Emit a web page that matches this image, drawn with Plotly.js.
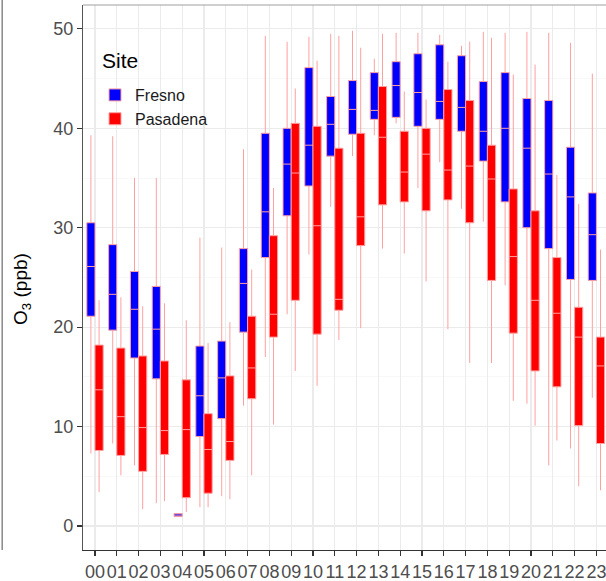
<!DOCTYPE html>
<html>
<head>
<meta charset="utf-8">
<script src="https://cdn.plot.ly/plotly-3.0.1.min.js"></script>
<style>html,body{margin:0;padding:0;background:#fff;}#chart{width:606px;height:581px;}</style>
</head>
<body>
<div id="chart"></div>
<script>
var hours = ['00','01','02','03','04','05','06','07','08','09','10','11','12','13','14','15','16','17','18','19','20','21','22','23'];

var fresnoQ1     = [21.1,19.7,16.9,14.8,0.95,9.0,10.8,19.5,27.0,31.2,34.2,37.2,39.4,40.9,41.1,40.2,40.9,39.7,36.7,32.6,30.0,27.9,24.8,24.7];
var fresnoMedian = [26.1,23.3,21.8,19.8,1.1,13.1,14.9,24.4,31.6,36.4,38.3,40.4,41.9,41.8,44.3,43.6,42.7,42.1,39.7,40.0,38.0,35.4,33.1,29.3];
var fresnoQ3     = [30.5,28.3,25.6,24.1,1.25,18.1,18.6,27.9,39.5,40.0,46.1,43.2,44.8,45.6,46.7,47.5,48.4,47.3,44.7,45.6,43.0,42.8,38.1,33.5];
var fresnoLow    = [7.3,8.3,6.1,2.3,0.95,1.9,3.0,12.1,17.0,21.3,27.3,32.1,37.2,39.3,40.5,34.0,36.6,31.9,30.6,24.2,12.3,6.1,7.8,12.9];
var fresnoHigh   = [39.3,39.2,35.0,35.0,1.25,29.0,28.0,37.9,49.3,48.7,49.2,49.5,49.8,47.0,49.6,49.6,49.4,48.3,49.7,49.6,49.7,49.6,48.6,45.5];

var pasQ1     = [7.6,7.1,5.5,7.2,2.85,3.3,6.6,12.8,19.0,22.7,19.3,21.7,28.2,32.3,32.6,31.7,32.8,30.5,24.7,19.4,15.6,14.0,10.1,8.3];
var pasMedian = [13.7,11.0,9.9,9.6,9.7,7.7,8.5,15.9,21.3,35.5,30.2,22.8,31.1,39.1,35.6,37.4,35.8,36.2,34.9,27.1,22.7,21.4,19.0,16.1];
var pasQ3     = [18.2,17.9,17.1,16.6,14.7,11.3,15.1,21.1,29.2,40.5,40.2,38.0,39.5,44.2,39.7,40.0,43.9,42.8,38.3,33.9,31.7,27.0,22.0,19.0];
var pasLow    = [3.4,5.1,1.7,2.5,1.4,1.9,2.7,5.1,10.2,15.6,14.1,18.7,19.9,27.9,27.4,24.6,19.8,16.4,16.4,12.6,10.1,8.6,4.0,3.6];
var pasHigh   = [22.7,23.0,22.1,22.4,20.7,18.4,20.5,25.8,34.0,44.0,46.8,49.3,48.1,49.5,43.7,42.9,46.7,48.7,49.1,45.4,46.4,35.3,32.4,27.8];

var siteNames = ['Fresno','Pasadena'];
var siteColors = ['#0000ff','#ff0000'];
var lineColor = '#ffa0a0';

var traces = [
  {type:'box', name:siteNames[0], x:hours, q1:fresnoQ1, median:fresnoMedian, q3:fresnoQ3,
   lowerfence:fresnoLow, upperfence:fresnoHigh, fillcolor:siteColors[0],
   line:{color:lineColor,width:1}, whiskerwidth:0, boxpoints:false},
  {type:'box', name:siteNames[1], x:hours, q1:pasQ1, median:pasMedian, q3:pasQ3,
   lowerfence:pasLow, upperfence:pasHigh, fillcolor:siteColors[1],
   line:{color:lineColor,width:1}, whiskerwidth:0, boxpoints:false}
];

var font = 'Liberation Sans, Arial, sans-serif';
var layout = {
  width:606, height:581,
  margin:{l:83, r:0, t:5, b:31},
  paper_bgcolor:'#ffffff', plot_bgcolor:'#ffffff',
  boxmode:'group', boxgap:0.25, boxgroupgap:0,
  font:{family:font, color:'#4d4d4d'},
  showlegend:true,
  legend:{x:0.023, xanchor:'left', y:0.866, yanchor:'top', bgcolor:'rgba(0,0,0,0)',
          font:{size:16, color:'#1a1a1a', family:font}, tracegroupgap:0},
  xaxis:{type:'category', range:[-0.55,23.44], tickmode:'array', tickvals:hours, ticktext:hours, tickangle:0,
         showgrid:true, gridcolor:'#ebebeb', gridwidth:1.1,
         showline:true, linecolor:'#333333', linewidth:1.2,
         ticks:'outside', ticklen:5, tickcolor:'#333333', tickwidth:1.2,
         tickfont:{size:18, color:'#4d4d4d', family:font}, zeroline:false, fixedrange:true},
  yaxis:{range:[-2.41,52.4], dtick:10, tick0:0, showgrid:true, gridcolor:'#ebebeb', gridwidth:1.1,
         minor:{dtick:5, tick0:0, showgrid:true, gridcolor:'#f4f4f4', gridwidth:0.6},
         showline:true, linecolor:'#555555', linewidth:1.2,
         ticks:'outside', ticklen:5, tickcolor:'#333333', tickwidth:1.2,
         tickfont:{size:18, color:'#4d4d4d', family:font}, zeroline:false, fixedrange:true},
  shapes:[
    {type:'rect', xref:'paper', yref:'paper', x0:0.0249, x1:0.2467, y0:0.774, y1:0.936,
     fillcolor:'#ffffff', line:{width:0}, layer:'between'},
    {type:'line', xref:'paper', yref:'paper', x0:0, x1:1, y0:1, y1:1, line:{color:'#a0a0a0', width:1.2}},
    {type:'line', xref:'paper', yref:'paper', x0:-0.1545, x1:-0.1545, y0:0, y1:1.01, line:{color:'#888888', width:1.5}}
  ],
  annotations:[
    {xref:'paper', yref:'paper', x:-0.1166, y:0.479, xanchor:'center', yanchor:'middle',
     text:'O<sub>3</sub> (ppb)', textangle:-90, showarrow:false,
     font:{size:19, color:'#000000', family:font}},
    {xref:'paper', yref:'paper', x:0.033, y:0.899, xanchor:'left', yanchor:'middle',
     text:'Site', showarrow:false, font:{size:21, color:'#000000', family:font}}
  ]
};

Plotly.newPlot('chart', traces, layout, {displayModeBar:false, staticPlot:true});
</script>
</body>
</html>
